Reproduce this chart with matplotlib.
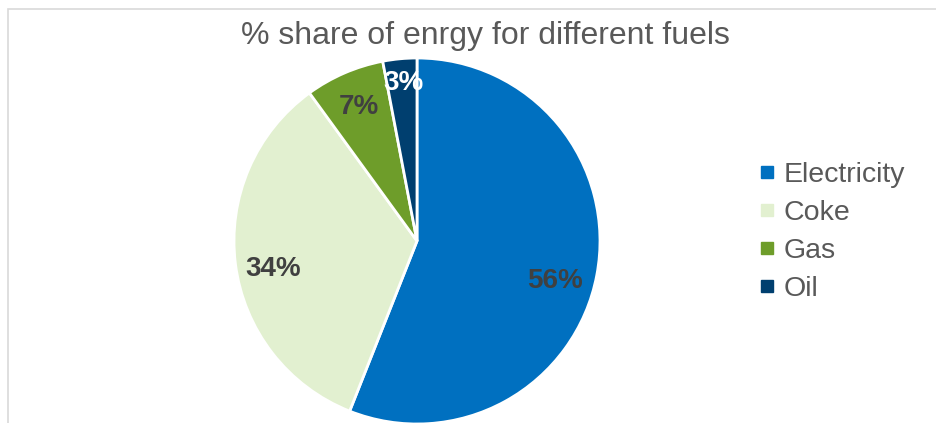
import numpy as np
import matplotlib
matplotlib.use('Agg')
from matplotlib import pyplot as plt
from matplotlib.lines import Line2D
from matplotlib.patches import Rectangle

### data
fuels = ['Electricity', 'Coke', 'Gas', 'Oil']
shares = [56, 34, 7, 3]
colours = ['#0070C0', '#E2F0D0', '#6E9D2A', '#003F6F']
label_colours = ['#404040', '#404040', '#404040', '#FFFFFF']
label_radius = [0.78, 0.80, 0.80, 0.87]
# small nudges (pixels) like Excel's "best fit" placement
label_nudge = [(-2, -13), (1, -10), (0, 0), (1, -1)]

plt.rcParams['font.family'] = ['Liberation Sans', 'DejaVu Sans']

W, H = 937, 423
fig = plt.figure(figsize=(W / 100, H / 100), dpi=100)

# chart area border (light grey, runs off right and bottom edges)
fig.patches.append(Rectangle((8.5 / W, -0.1), 1.2, 1.1 - 9.5 / H, transform=fig.transFigure,
                             fill=False, edgecolor='#D9D9D9', linewidth=1.2))

# pie centre (417, 241) px, radius 183 px
cx, cy, r = 417, H - 241, 183
ax = fig.add_axes([(cx - r) / W, (cy - r) / H, 2 * r / W, 2 * r / H])
wedges, _ = ax.pie(shares, colors=colours, startangle=90, counterclock=False,
                   wedgeprops=dict(edgecolor='white', linewidth=2))
ax.set_xlim(-1, 1)
ax.set_ylim(-1, 1)
ax.set_aspect('equal')
ax.axis('off')

# data labels
for w, s, c, rr, nd in zip(wedges, shares, label_colours, label_radius, label_nudge):
    ang = np.deg2rad((w.theta1 + w.theta2) / 2)
    ax.annotate('%d%%' % s, (rr * np.cos(ang), rr * np.sin(ang)), xytext=nd,
                textcoords='offset pixels', ha='center', va='center',
                fontsize=20, fontweight='bold', color=c)

fig.text(485 / W, 1 - 36 / H, '% share of enrgy for different fuels', ha='center', va='center',
         fontsize=23, color='#595959')

handles = [Line2D([], [], marker='s', linestyle='none', markersize=8, markerfacecolor=c,
                  markeredgecolor=c) for c in colours]
fig.legend(handles, fuels, loc='center left', bbox_to_anchor=(758 / W, 1 - 232 / H),
           frameon=False, fontsize=20.5, labelcolor='#595959', handlelength=0.6,
           handletextpad=0.3, labelspacing=0.43, borderpad=0, borderaxespad=0)

fig.savefig('out.png', dpi=100)
